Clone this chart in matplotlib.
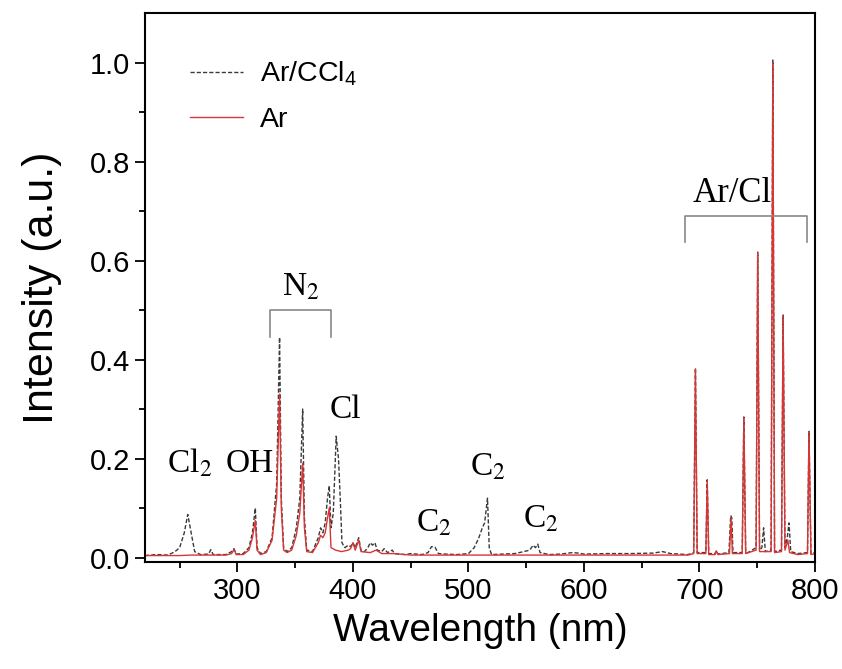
import matplotlib
matplotlib.use('Agg')
import matplotlib.pyplot as plt

# spectra (nm, normalised intensity)
wl_ccl4 = [220, 230, 240, 246, 250, 254, 257, 260, 263, 268, 275, 277, 279, 290, 295, 297, 299,
           305, 310, 313, 315.5, 317, 320, 325, 330, 334, 336.5, 338, 340, 343, 347, 351, 354,
           356.5, 358, 360, 365, 370, 372, 374, 376, 378, 379.5, 381, 383, 385.5, 387.5, 389,
           390.5, 393, 396, 398, 400, 402, 405, 407, 410, 413, 415, 417, 419, 421, 425, 427,
           430, 434, 436, 445, 450, 460, 465, 468, 471, 474, 480, 490, 500, 505, 509, 512, 514,
           516.5, 518, 520, 530, 540, 548, 553, 556, 558, 560, 562, 570, 580, 590, 595, 600,
           620, 640, 660, 668, 675, 690, 695, 696.5, 698, 705.5, 706.7, 708, 713.5, 714.7, 716,
           725.5, 727, 728, 729, 737, 738.4, 740, 742, 749, 750.4, 752, 754, 755.5, 757, 762,
           763.5, 765, 771, 772.4, 774, 776, 777.5, 779, 785, 793.5, 794.8, 796.5, 800]
int_ccl4 = [0.004, 0.006, 0.005, 0.012, 0.02, 0.05, 0.087, 0.05, 0.012, 0.006, 0.007, 0.016, 0.006,
            0.006, 0.012, 0.018, 0.007, 0.008, 0.02, 0.05, 0.10, 0.02, 0.008, 0.012, 0.04, 0.15,
            0.445, 0.12, 0.02, 0.012, 0.02, 0.06, 0.12, 0.30, 0.08, 0.015, 0.012, 0.04, 0.06,
            0.05, 0.07, 0.12, 0.145, 0.06, 0.09, 0.245, 0.20, 0.12, 0.03, 0.02, 0.025, 0.022,
            0.03, 0.02, 0.04, 0.015, 0.012, 0.02, 0.03, 0.025, 0.03, 0.015, 0.012, 0.018, 0.01,
            0.015, 0.008, 0.006, 0.008, 0.006, 0.01, 0.022, 0.021, 0.008, 0.007, 0.006, 0.008,
            0.02, 0.04, 0.06, 0.07, 0.12, 0.02, 0.006, 0.007, 0.008, 0.012, 0.015, 0.025, 0.02,
            0.027, 0.01, 0.006, 0.007, 0.01, 0.009, 0.007, 0.008, 0.008, 0.009, 0.012, 0.008,
            0.006, 0.01, 0.383, 0.01, 0.01, 0.157, 0.008, 0.008, 0.014, 0.007, 0.01, 0.085,
            0.08, 0.01, 0.01, 0.284, 0.01, 0.01, 0.02, 0.617, 0.015, 0.02, 0.06, 0.012, 0.015,
            1.005, 0.012, 0.015, 0.49, 0.02, 0.04, 0.07, 0.012, 0.008, 0.01, 0.255, 0.008, 0.01]

wl_ar = [220, 250, 260, 290, 295, 297, 299, 305, 310, 313, 315.5, 317, 320, 325, 330, 334, 336.5,
         338, 340, 343, 347, 351, 354, 356.5, 358, 360, 365, 370, 372, 374, 376, 378, 379.5, 381,
         385, 390, 396, 398, 400, 402, 405, 407, 415, 420, 425, 435, 450, 500, 550, 600, 650,
         690, 695, 696.5, 698, 705.5, 706.7, 708, 713.5, 714.7, 716, 726, 727.3, 728.5, 737,
         738.4, 740, 749, 750.4, 752, 762, 763.5, 765, 771, 772.4, 774, 776.5, 778, 785, 793.5,
         794.8, 796.5, 800]
int_ar = [0.004, 0.004, 0.005, 0.005, 0.008, 0.016, 0.006, 0.006, 0.015, 0.04, 0.075, 0.015, 0.006,
          0.01, 0.035, 0.12, 0.33, 0.10, 0.015, 0.01, 0.015, 0.045, 0.09, 0.19, 0.06, 0.012, 0.01,
          0.03, 0.045, 0.04, 0.05, 0.08, 0.10, 0.02, 0.015, 0.012, 0.015, 0.018, 0.03, 0.015,
          0.035, 0.012, 0.01, 0.015, 0.008, 0.008, 0.005, 0.005, 0.005, 0.005, 0.005, 0.005,
          0.008, 0.38, 0.008, 0.008, 0.155, 0.006, 0.006, 0.013, 0.006, 0.008, 0.08, 0.008,
          0.008, 0.282, 0.008, 0.015, 0.615, 0.012, 0.012, 1.0, 0.01, 0.012, 0.488, 0.015,
          0.035, 0.01, 0.006, 0.008, 0.253, 0.006, 0.008]

# band labels: text, x, y
labels = ['Cl$_2$', 'OH', 'N$_2$', 'Cl', 'C$_2$', 'C$_2$', 'C$_2$', 'Ar/Cl']
label_x = [259, 311, 354.5, 393.5, 470, 516.6, 562.6, 728.2]
label_y = [0.19, 0.19, 0.545, 0.298, 0.07, 0.183, 0.077, 0.735]

# brackets: x start, x end, top, leg bottom
brackets = [(328.4, 381.3, 0.50, 0.446), (687.5, 793.3, 0.69, 0.637)]

plt.rcParams['font.family'] = ['Liberation Sans', 'DejaVu Sans']
plt.rcParams['mathtext.fontset'] = 'custom'
plt.rcParams['mathtext.rm'] = 'Liberation Sans'

fig = plt.figure(figsize=(8.42, 6.69), dpi=100)
ax = fig.add_axes([145 / 842, 107 / 669, 670 / 842, 549 / 669])

ax.plot(wl_ccl4, int_ccl4, color='#3a3a3a', lw=1.0, ls=(0, (3, 1.5)), label='Ar/CCl$_4$')
ax.plot(wl_ar, int_ar, color='#d93535', lw=1.0, label='Ar')

for i, (txt, x, y) in enumerate(zip(labels, label_x, label_y)):
    size = 25 if txt == 'Ar/Cl' else 24
    ax.text(x, y, txt, ha='center', va='center', fontsize=size,
            family='Liberation Serif', math_fontfamily='stix')

for x0, x1, top, bot in brackets:
    ax.plot([x0, x0, x1, x1], [bot, top, top, bot], color='#888888', lw=1.2)

ax.set_xlim(220, 800)
ax.set_ylim(-0.009, 1.1)
ax.set_xticks([300, 400, 500, 600, 700, 800])
ax.set_xticks([250, 350, 450, 550, 650, 750], minor=True)
ax.set_yticks([0.0, 0.2, 0.4, 0.6, 0.8, 1.0])
ax.set_yticks([0.1, 0.3, 0.5, 0.7, 0.9], minor=True)
ax.set_yticklabels(['0.0', '0.2', '0.4', '0.6', '0.8', '1.0'])
ax.tick_params(which='both', direction='out', width=1.3, labelsize=21)
ax.tick_params(which='major', length=7)
ax.tick_params(which='minor', length=4)
for sp in ax.spines.values():
    sp.set_linewidth(1.5)

ax.set_xlabel('Wavelength (nm)', fontsize=28, labelpad=6)
ax.set_ylabel('Intensity (a.u.)', fontsize=31, labelpad=20)

leg = ax.legend(loc='upper left', bbox_to_anchor=(0.067, 0.915), frameon=False, fontsize=20.5,
                handlelength=1.85, handletextpad=0.6, labelspacing=0.65, borderpad=0, borderaxespad=0)

fig.savefig('out.png', dpi=100)
